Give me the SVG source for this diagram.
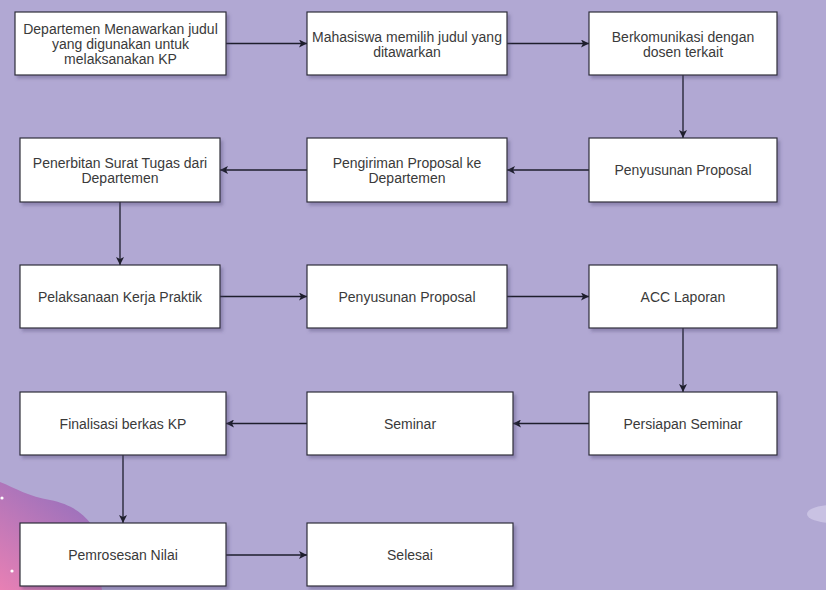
<svg xmlns="http://www.w3.org/2000/svg" width="826" height="590" viewBox="0 0 826 590">
  <defs>
    <style>
      .box { fill: #ffffff; stroke: #2f2f3a; stroke-width: 1.2; filter: url(#shadow); }
      .lbl { font-family: "Liberation Sans", Arial, sans-serif; font-size: 14px; fill: #3a3a3a; text-anchor: middle; }
      .edge { fill: none; stroke: #1e1e2c; stroke-width: 1.3; marker-end: url(#arrow); }
    </style>
    <filter id="shadow" x="-10%" y="-10%" width="130%" height="140%">
      <feDropShadow dx="2.5" dy="3" stdDeviation="1.5" flood-color="#4a4470" flood-opacity="0.35"/>
    </filter>
    <marker id="arrow" viewBox="0 0 10 10" refX="10" refY="5" markerWidth="9" markerHeight="8" markerUnits="userSpaceOnUse" orient="auto">
      <path d="M0,0 L10,5 L0,10 L2.5,5 Z" fill="#1e1e2c"/>
    </marker>
    <linearGradient id="blob" x1="0.7" y1="0" x2="0" y2="1">
      <stop offset="0" stop-color="#9470bd"/>
      <stop offset="1" stop-color="#e880b4"/>
    </linearGradient>
  </defs>

  <rect x="0" y="0" width="826" height="590" fill="#b1a8d3"/>
  <path d="M0,482 C15,488 30,497 50,500 C70,504 82,512 92,525 L102,590 L0,590 Z" fill="url(#blob)"/>
  <circle cx="2" cy="498" r="1.6" fill="#ffffff"/>
  <circle cx="12" cy="571" r="1.6" fill="#ffffff"/>
  <ellipse cx="832" cy="514" rx="25" ry="9" fill="#c9c2e3"/>

  <g id="connectors">
    <line class="edge" x1="226" y1="43.5" x2="307" y2="43.5"/>
    <line class="edge" x1="507" y1="43.5" x2="589" y2="43.5"/>
    <line class="edge" x1="683" y1="75" x2="683" y2="138"/>
    <line class="edge" x1="589" y1="170" x2="507" y2="170"/>
    <line class="edge" x1="307" y1="170" x2="220" y2="170"/>
    <line class="edge" x1="120" y1="202" x2="120" y2="265"/>
    <line class="edge" x1="220" y1="296.5" x2="307" y2="296.5"/>
    <line class="edge" x1="507" y1="296.5" x2="589" y2="296.5"/>
    <line class="edge" x1="683" y1="328" x2="683" y2="392"/>
    <line class="edge" x1="589" y1="423.5" x2="513" y2="423.5"/>
    <line class="edge" x1="307" y1="423.5" x2="226" y2="423.5"/>
    <line class="edge" x1="123" y1="455" x2="123" y2="523"/>
    <line class="edge" x1="226" y1="555" x2="307" y2="555"/>
  </g>

  <g id="n1">
    <rect class="box" x="15" y="12" width="211" height="63"/>
    <text class="lbl" x="120.5" y="34">Departemen Menawarkan judul</text>
    <text class="lbl" x="120.5" y="49">yang digunakan untuk</text>
    <text class="lbl" x="120.5" y="64">melaksanakan KP</text>
  </g>
  <g id="n2">
    <rect class="box" x="307" y="12" width="200" height="63"/>
    <text class="lbl" x="407" y="42">Mahasiswa memilih judul yang</text>
    <text class="lbl" x="407" y="57">ditawarkan</text>
  </g>
  <g id="n3">
    <rect class="box" x="589" y="12" width="188" height="63"/>
    <text class="lbl" x="683" y="42">Berkomunikasi dengan</text>
    <text class="lbl" x="683" y="57">dosen terkait</text>
  </g>
  <g id="n4">
    <rect class="box" x="20" y="138" width="200" height="64"/>
    <text class="lbl" x="120" y="168">Penerbitan Surat Tugas dari</text>
    <text class="lbl" x="120" y="183">Departemen</text>
  </g>
  <g id="n5">
    <rect class="box" x="307" y="138" width="200" height="64"/>
    <text class="lbl" x="407" y="168">Pengiriman Proposal ke</text>
    <text class="lbl" x="407" y="183">Departemen</text>
  </g>
  <g id="n6">
    <rect class="box" x="589" y="138" width="188" height="64"/>
    <text class="lbl" x="683" y="175">Penyusunan Proposal</text>
  </g>
  <g id="n7">
    <rect class="box" x="20" y="265" width="200" height="63"/>
    <text class="lbl" x="120" y="301.5">Pelaksanaan Kerja Praktik</text>
  </g>
  <g id="n8">
    <rect class="box" x="307" y="265" width="200" height="63"/>
    <text class="lbl" x="407" y="301.5">Penyusunan Proposal</text>
  </g>
  <g id="n9">
    <rect class="box" x="589" y="265" width="188" height="63"/>
    <text class="lbl" x="683" y="301.5">ACC Laporan</text>
  </g>
  <g id="n10">
    <rect class="box" x="20" y="392" width="206" height="63"/>
    <text class="lbl" x="123" y="428.5">Finalisasi berkas KP</text>
  </g>
  <g id="n11">
    <rect class="box" x="307" y="392" width="206" height="63"/>
    <text class="lbl" x="410" y="428.5">Seminar</text>
  </g>
  <g id="n12">
    <rect class="box" x="589" y="392" width="188" height="63"/>
    <text class="lbl" x="683" y="428.5">Persiapan Seminar</text>
  </g>
  <g id="n13">
    <rect class="box" x="20" y="523" width="206" height="63"/>
    <text class="lbl" x="123" y="559.5">Pemrosesan Nilai</text>
  </g>
  <g id="n14">
    <rect class="box" x="307" y="523" width="206" height="63"/>
    <text class="lbl" x="410" y="559.5">Selesai</text>
  </g>
</svg>
